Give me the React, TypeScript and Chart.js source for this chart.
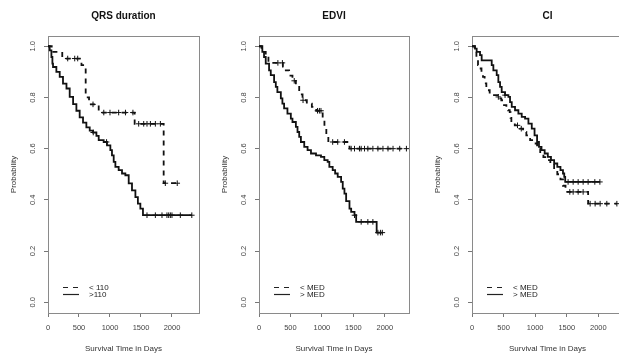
import React, { useEffect, useRef } from "react";
import { Chart, registerables } from "chart.js";

Chart.register(...registerables);

const FONT = "'Liberation Sans', Arial, Helvetica, sans-serif";

// ---------- axis ticks ----------
const X_TICKS = [0, 500, 1000, 1500, 2000];
const Y_TICKS = [0, 0.2, 0.4, 0.6, 0.8, 1.0];

// ---------- QRS duration ----------
const QRS_LOW_T = [0, 60, 230, 540, 608, 662, 818, 1398, 1866, 2085];
const QRS_LOW_S = [1.0, 0.978, 0.952, 0.926, 0.8, 0.773, 0.741, 0.697, 0.465, 0.465];
const QRS_LOW_CENS = [318, 431, 479, 726, 900, 1000, 1140, 1250, 1370, 1463, 1544, 1597, 1652, 1732, 1813, 1893, 2085];

const QRS_HIGH_T = [0, 27, 55, 71, 81, 135, 189, 242, 298, 350, 405, 458, 511, 565, 619, 673, 726, 781, 818, 898, 952, 1006, 1032, 1060, 1087, 1140, 1194, 1248, 1302, 1355, 1410, 1450, 1490, 1532, 2320];
const QRS_HIGH_S = [1.0, 0.984, 0.958, 0.932, 0.919, 0.9, 0.88, 0.854, 0.835, 0.802, 0.774, 0.748, 0.722, 0.702, 0.683, 0.67, 0.663, 0.65, 0.633, 0.626, 0.613, 0.594, 0.574, 0.548, 0.529, 0.516, 0.503, 0.496, 0.464, 0.437, 0.411, 0.385, 0.366, 0.34, 0.34];
const QRS_HIGH_CENS = [730, 945, 1597, 1732, 1839, 1919, 1947, 1974, 2000, 2135, 2320];

// ---------- EDVI ----------
const EDVI_LOW_T = [0, 40, 107, 150, 380, 426, 479, 532, 586, 639, 692, 760, 840, 910, 1012, 1040, 1070, 1102, 1438, 2343];
const EDVI_LOW_S = [1.0, 0.978, 0.965, 0.935, 0.92, 0.906, 0.885, 0.865, 0.845, 0.812, 0.789, 0.776, 0.763, 0.748, 0.71, 0.68, 0.652, 0.626, 0.6, 0.6];
const EDVI_LOW_CENS = [300, 372, 560, 700, 930, 960, 985, 1171, 1251, 1358, 1465, 1518, 1597, 1624, 1677, 1730, 1810, 1890, 1970, 2050, 2130, 2236, 2343];

const EDVI_HIGH_T = [0, 53, 80, 107, 160, 187, 240, 267, 292, 347, 372, 399, 452, 506, 532, 586, 612, 639, 666, 719, 772, 826, 906, 985, 1038, 1091, 1118, 1171, 1210, 1251, 1305, 1331, 1358, 1385, 1438, 1465, 1518, 1544, 1870, 1960];
const EDVI_HIGH_S = [1.0, 0.978, 0.958, 0.932, 0.906, 0.887, 0.86, 0.841, 0.821, 0.796, 0.776, 0.757, 0.737, 0.717, 0.704, 0.685, 0.665, 0.646, 0.626, 0.607, 0.594, 0.581, 0.574, 0.568, 0.555, 0.548, 0.529, 0.516, 0.503, 0.49, 0.47, 0.444, 0.424, 0.395, 0.366, 0.353, 0.34, 0.314, 0.272, 0.272];
const EDVI_HIGH_CENS = [1518, 1624, 1730, 1810, 1890, 1930, 1960];

// ---------- CI ----------
const CI_LOW_T = [0, 42, 70, 95, 122, 150, 174, 200, 227, 280, 412, 440, 464, 491, 544, 570, 597, 610, 623, 677, 756, 808, 860, 920, 980, 1030, 1080, 1130, 1180, 1240, 1300, 1350, 1400, 1440, 1480, 1838, 2293];
const CI_LOW_S = [1.0, 0.978, 0.952, 0.926, 0.913, 0.9, 0.88, 0.855, 0.828, 0.809, 0.802, 0.796, 0.789, 0.77, 0.763, 0.75, 0.743, 0.72, 0.704, 0.691, 0.678, 0.665, 0.652, 0.633, 0.62, 0.6, 0.58, 0.567, 0.555, 0.54, 0.52, 0.5, 0.48, 0.455, 0.431, 0.385, 0.385];
const CI_LOW_CENS = [417, 720, 780, 1548, 1601, 1680, 1759, 1870, 1949, 2028, 2134, 2293];

const CI_HIGH_T = [0, 48, 74, 127, 153, 312, 338, 391, 417, 444, 470, 523, 576, 602, 629, 681, 734, 787, 840, 893, 946, 990, 1030, 1060, 1100, 1150, 1200, 1250, 1300, 1350, 1400, 1440, 1460, 1475, 2024];
const CI_HIGH_S = [1.0, 0.991, 0.978, 0.965, 0.945, 0.926, 0.906, 0.887, 0.86, 0.841, 0.821, 0.809, 0.802, 0.782, 0.763, 0.75, 0.737, 0.724, 0.717, 0.698, 0.678, 0.652, 0.626, 0.607, 0.594, 0.581, 0.568, 0.555, 0.542, 0.529, 0.516, 0.503, 0.49, 0.47, 0.47];
const CI_HIGH_CENS = [523, 1521, 1601, 1680, 1759, 1838, 1944, 2024];

// ---------- titles / legend labels ----------
const TITLES = ["QRS duration", "EDVI", "CI"];
const LEGEND_LABELS = [
  ["< 110", ">110"],
  ["< MED", "> MED"],
  ["< MED", "> MED"],
];
const X_MAX = [2436, 2384, 2390];

type Group = { label: string; dashed: boolean; times: number[]; surv: number[]; cens: number[] };

const GROUPS: Group[][] = [
  [
    { label: LEGEND_LABELS[0][0], dashed: true, times: QRS_LOW_T, surv: QRS_LOW_S, cens: QRS_LOW_CENS },
    { label: LEGEND_LABELS[0][1], dashed: false, times: QRS_HIGH_T, surv: QRS_HIGH_S, cens: QRS_HIGH_CENS },
  ],
  [
    { label: LEGEND_LABELS[1][0], dashed: true, times: EDVI_LOW_T, surv: EDVI_LOW_S, cens: EDVI_LOW_CENS },
    { label: LEGEND_LABELS[1][1], dashed: false, times: EDVI_HIGH_T, surv: EDVI_HIGH_S, cens: EDVI_HIGH_CENS },
  ],
  [
    { label: LEGEND_LABELS[2][0], dashed: true, times: CI_LOW_T, surv: CI_LOW_S, cens: CI_LOW_CENS },
    { label: LEGEND_LABELS[2][1], dashed: false, times: CI_HIGH_T, surv: CI_HIGH_S, cens: CI_HIGH_CENS },
  ],
];

// layout of the three canvases (page pixels)
const LAYOUT = [
  { left: 0, width: 206, padRight: 7 },
  { left: 211, width: 205, padRight: 7 },
  { left: 424, width: 210, padRight: 11 },
];

const DASH = [5, 5];

function stepAt(times: number[], surv: number[], t: number) {
  let v = surv[0];
  for (let i = 0; i < times.length; i++) if (times[i] <= t) v = surv[i];
  return v;
}

const framePlugin = {
  id: "frame",
  beforeDatasetsDraw(chart: any) {
    const { ctx, chartArea } = chart;
    ctx.save();
    ctx.strokeStyle = "#8a8a8a";
    ctx.lineWidth = 1;
    ctx.strokeRect(
      Math.round(chartArea.left) + 0.5,
      Math.round(chartArea.top) + 0.5,
      Math.round(chartArea.right - chartArea.left),
      Math.round(chartArea.bottom - chartArea.top)
    );
    ctx.restore();
  },
};

const kmLegendPlugin = {
  id: "kmLegend",
  afterDraw(chart: any) {
    const { ctx, chartArea } = chart;
    const items = chart.data.datasets.filter((d: any) => d.showLine !== false);
    ctx.save();
    ctx.font = `8px ${FONT}`;
    ctx.textBaseline = "middle";
    ctx.textAlign = "left";
    items.forEach((d: any, i: number) => {
      const y = Math.round(chartArea.bottom - 26.3 + i * 7.6) + 0.5;
      ctx.beginPath();
      ctx.setLineDash(d.borderDash || []);
      ctx.lineWidth = 1.2;
      ctx.strokeStyle = "#222";
      ctx.moveTo(chartArea.left + 15, y);
      ctx.lineTo(chartArea.left + 31, y);
      ctx.stroke();
      ctx.setLineDash([]);
      ctx.fillStyle = "#222";
      ctx.fillText(d.label, chartArea.left + 41, y);
    });
    ctx.restore();
  },
};

function KMPanel({ index }: { index: number }) {
  const ref = useRef<HTMLCanvasElement>(null);
  const lay = LAYOUT[index];
  useEffect(() => {
    if (!ref.current) return;
    const datasets: any[] = [];
    GROUPS[index].forEach((g) => {
      datasets.push({
        label: g.label,
        data: g.times.map((t, i) => ({ x: t, y: g.surv[i] })),
        stepped: true,
        borderColor: "#111",
        borderWidth: 1.8,
        borderDash: g.dashed ? DASH : [],
        pointRadius: 0,
        fill: false,
      });
    });
    GROUPS[index].forEach((g) => {
      datasets.push({
        label: g.label + " (censored)",
        data: g.cens.map((t) => ({ x: t, y: stepAt(g.times, g.surv, t) })),
        showLine: false,
        pointStyle: "cross",
        pointRadius: 2.8,
        pointBorderWidth: 1,
        pointBorderColor: "#111",
        pointBackgroundColor: "#111",
      });
    });

    const tickFont = { family: FONT, size: 7.5 };
    const chart = new Chart(ref.current, {
      type: "line",
      data: { datasets },
      options: {
        animation: false,
        responsive: false,
        devicePixelRatio: 1,
        layout: { padding: { left: 0, right: lay.padRight, top: 0, bottom: 0 } },
        plugins: {
          legend: { display: false },
          tooltip: { enabled: false },
          title: {
            display: true,
            text: TITLES[index],
            fullSize: false,
            color: "#111",
            font: { family: FONT, size: 10, weight: "bold" },
            padding: { top: 10.3, bottom: 13.7 },
          },
        },
        scales: {
          x: {
            type: "linear",
            min: 0,
            max: X_MAX[index],
            afterBuildTicks: (s: any) => {
              s.ticks = X_TICKS.map((v) => ({ value: v }));
            },
            afterFit: (s: any) => {
              s.height = 43;
            },
            ticks: {
              autoSkip: false,
              maxRotation: 0,
              minRotation: 0,
              padding: 6.5,
              color: "#444",
              font: tickFont,
              callback: (v: any) => String(v),
            },
            grid: { display: true, drawOnChartArea: false, drawTicks: true, tickLength: 4, color: "#777" },
            border: { display: true, color: "#777" },
            title: {
              display: true,
              text: "Survival Time in Days",
              color: "#333",
              font: { family: FONT, size: 8 },
              padding: { top: 0, bottom: 2.9 },
            },
          },
          y: {
            type: "linear",
            min: -0.042,
            max: 1.04,
            afterBuildTicks: (s: any) => {
              s.ticks = Y_TICKS.map((v) => ({ value: v }));
            },
            afterFit: (s: any) => {
              s.width = 48;
            },
            ticks: {
              autoSkip: false,
              minRotation: 90,
              maxRotation: 90,
              crossAlign: "center",
              padding: 6,
              color: "#444",
              font: tickFont,
              callback: (v: any) => Number(v).toFixed(1),
            },
            grid: { display: true, drawOnChartArea: false, drawTicks: true, tickLength: 4, color: "#777" },
            border: { display: true, color: "#777" },
            title: {
              display: true,
              text: "Probability",
              color: "#333",
              font: { family: FONT, size: 8 },
              padding: { top: 8.9, bottom: 0 },
            },
          },
        },
      } as any,
      plugins: [framePlugin, kmLegendPlugin],
    });
    return () => chart.destroy();
  }, [index]);

  return (
    <canvas
      ref={ref}
      width={lay.width}
      height={356}
      style={{ position: "absolute", left: lay.left, top: 0, width: lay.width, height: 356 }}
    />
  );
}

export default function App() {
  return (
    <div
      style={{
        position: "absolute",
        left: 0,
        top: 0,
        width: 619,
        height: 356,
        overflow: "hidden",
        background: "#fff",
      }}
    >
      <KMPanel index={0} />
      <KMPanel index={1} />
      <KMPanel index={2} />
    </div>
  );
}
